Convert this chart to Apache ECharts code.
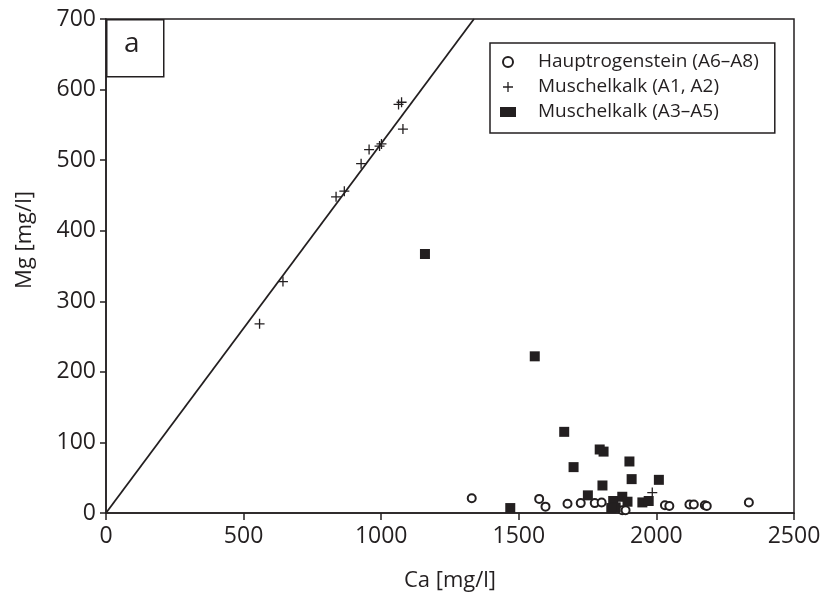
<!DOCTYPE html>
<html><head><meta charset="utf-8">
<script src="https://cdn.jsdelivr.net/npm/echarts@6/dist/echarts.min.js"></script>
<style>html,body{margin:0;padding:0;background:#fff}#c{width:835px;height:597px}</style>
</head><body><div id="c"></div>
<script>
const xTicks = [0, 500, 1000, 1500, 2000, 2500];
const yTicks = [0, 100, 200, 300, 400, 500, 600, 700];
const seriesNames = ['Hauptrogenstein (A6–A8)', 'Muschelkalk (A1, A2)', 'Muschelkalk (A3–A5)'];

const hauptCa = [1329,1574,1597,1677,1725,1776,1801,1876,1888,2031,2047,2120,2136,2176,2183,2336];
const hauptMg = [21,20,9,13,14,14,15,4,4,11,10,12,12,11,10,15];

const muschA12Ca = [558,643,836,866,927,956,994,1001,1063,1074,1079,1985];
const muschA12Mg = [268,328,448,456,495,515,520,523,579,582,544,29];

const muschA35Ca = [1159,1558,1665,1699,1794,1808,1902,1910,2009,1804,1751,1469,1843,1876,1895,1852,1836,1949,1972];
const muschA35Mg = [367,222,115,65,90,87,73,48,47,39,25,7,17,23,16,8,7,15,17];

const lineCa = [0, 1337];
const lineMg = [0, 700];

const zip = (a, b) => a.map((v, i) => [v, b[i]]);
const FONT = 'Open Sans';
const ink = '#231f20';

const chart = echarts.init(document.getElementById('c'), null, {renderer: 'canvas'});
chart.setOption({
  animation: false,
  backgroundColor: '#fff',
  textStyle: {fontFamily: FONT, color: ink},
  grid: {left: 106, right: 41, top: 19, bottom: 83, show: true, borderColor: ink, borderWidth: 1.5, backgroundColor: 'transparent'},
  xAxis: {
    type: 'value', min: 0, max: 2500, interval: 500,
    name: 'Ca [mg/l]', nameLocation: 'middle', nameGap: 57,
    nameTextStyle: {fontSize: 22, color: ink, fontFamily: FONT},
    axisLine: {show: true, lineStyle: {color: ink, width: 1.5}},
    axisTick: {show: true, length: 7, inside: false, lineStyle: {color: ink, width: 1.5}},
    axisLabel: {fontSize: 23, color: ink, margin: 12, fontFamily: FONT,
      formatter: v => xTicks.includes(v) ? String(v) : ''},
    splitLine: {show: false}
  },
  yAxis: {
    type: 'value', min: 0, max: 700, interval: 100,
    axisLine: {show: true, lineStyle: {color: ink, width: 1.5}},
    axisTick: {show: true, length: 6, inside: false, lineStyle: {color: ink, width: 1.5}},
    axisLabel: {fontSize: 23, color: ink, margin: 10, fontFamily: FONT,
      formatter: v => yTicks.includes(v) ? String(v) : ''},
    splitLine: {show: false}
  },
  legend: {
    orient: 'vertical', left: 490, top: 43,
    padding: [9, 16, 11, 10],
    itemGap: 5, itemWidth: 16, itemHeight: 10,
    borderColor: ink, borderWidth: 1.5, backgroundColor: '#fff',
    textStyle: {fontSize: 19, lineHeight: 20, color: ink, fontFamily: FONT, padding: [0, 0, 0, 17]},
    data: [
      {name: seriesNames[0], icon: 'circle', itemStyle: {color: '#fff', borderColor: ink, borderWidth: 2}},
      {name: seriesNames[1], icon: 'path://M0,5L10,5M5,0L5,10', itemStyle: {color: 'none', borderColor: ink, borderWidth: 1.3}},
      {name: seriesNames[2], icon: 'rect', itemStyle: {color: ink}}
    ]
  },
  graphic: [
    {type: 'rect', left: 106, top: 19, shape: {width: 57, height: 57},
     style: {fill: '#fff', stroke: ink, lineWidth: 1.5}, z: 100},
    {type: 'text', left: 124, top: 30, style: {text: 'a', font: '28px "Open Sans"', fill: ink}, z: 101},
    {type: 'text', x: 14, y: 240, rotation: Math.PI / 2,
     style: {text: 'Mg [mg/l]', font: '22px "Open Sans"', fill: ink, align: 'center', verticalAlign: 'top'}, z: 101}
  ],
  series: [
    {
      type: 'line', data: zip(lineCa, lineMg), symbol: 'none', silent: true,
      lineStyle: {color: ink, width: 1.8}, z: 1
    },
    {
      name: seriesNames[0], type: 'scatter', data: zip(hauptCa, hauptMg),
      symbol: 'circle', symbolSize: 8,
      itemStyle: {color: '#fff', borderColor: ink, borderWidth: 2, opacity: 1}, z: 3
    },
    {
      name: seriesNames[1], type: 'scatter', data: zip(muschA12Ca, muschA12Mg),
      symbol: 'path://M0,5L10,5M5,0L5,10', symbolSize: 10,
      itemStyle: {color: 'none', borderColor: ink, borderWidth: 1.3, opacity: 1}, z: 4
    },
    {
      name: seriesNames[2], type: 'scatter', data: zip(muschA35Ca, muschA35Mg),
      symbol: 'rect', symbolSize: 10,
      itemStyle: {color: ink, opacity: 1}, z: 5
    }
  ]
});
</script></body></html>
